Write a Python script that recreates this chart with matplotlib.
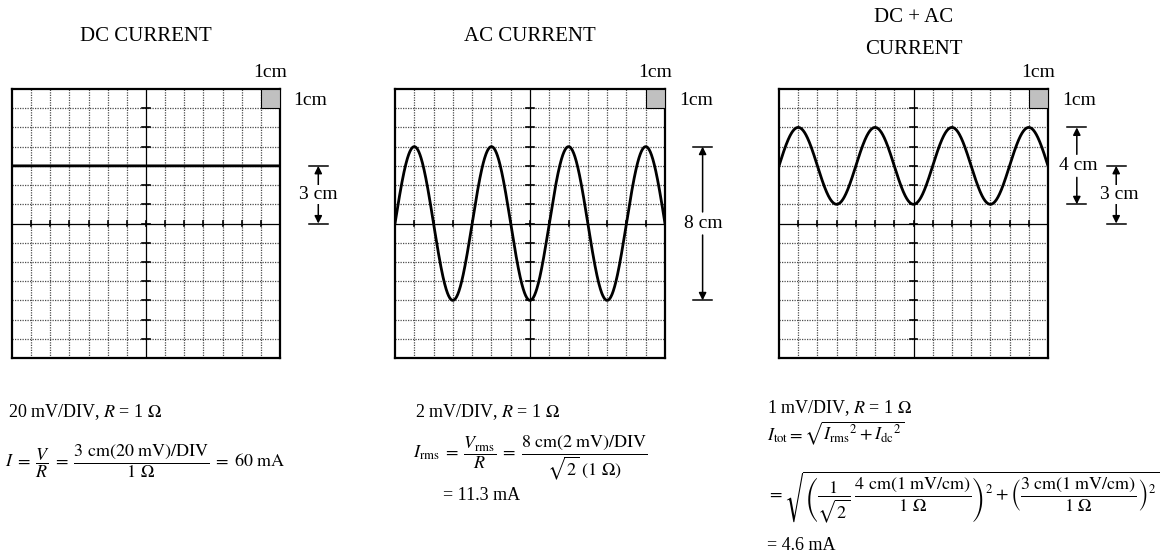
import numpy as np
import matplotlib.pyplot as plt
from matplotlib.patches import Rectangle

plt.rcParams['font.family'] = ['Liberation Serif', 'DejaVu Serif']
plt.rcParams['mathtext.fontset'] = 'stix'

# screen data, in cm (1 cm = 1 DIV)
titles = [['DC CURRENT'], ['AC CURRENT'], ['DC + AC', 'CURRENT']]
dc_level = [3, 0, 3]        # cm above the centre line
ac_amplitude = [0, 4, 2]    # cm peak
ac_period = [4, 4, 4]       # cm per cycle
n_div = 14

# dimension marks: (label, y_top, y_bottom, x of arrow, x of label)
dims = [
    [('3 cm', 3, 0, 16.0, 16.0)],
    [('8 cm', 4, -4, 15.95, 16.0)],
    [('4 cm', 5, 1, 15.5, 15.6), ('3 cm', 3, 0, 17.55, 17.7)],
]

# axes boxes in pixels (left, right) ; top/bottom shared
W, H = 1164, 557
box_x = [(12, 280), (395, 665), (779, 1048)]
box_top, box_bot = 89, 358

fig = plt.figure(figsize=(W / 100, H / 100), dpi=100)


def draw_screen(ax, k):
    ax.set_xlim(0, n_div)
    ax.set_ylim(-n_div / 2, n_div / 2)
    ax.set_xticks([])
    ax.set_yticks([])
    for s in ax.spines.values():
        s.set_linewidth(1.6)
    # dotted graticule
    for i in range(1, n_div):
        if i != n_div // 2:
            ax.axvline(i, color='0.3', lw=0.9, ls=(0, (1, 1)))
            ax.axhline(i - n_div / 2, color='0.3', lw=0.9, ls=(0, (1, 1)))
    ax.axvline(n_div / 2, color='k', lw=0.9)
    ax.axhline(0, color='k', lw=0.9)
    # little ticks on the centre lines
    for i in range(1, n_div):
        ax.plot([n_div / 2 - 0.2, n_div / 2 + 0.2], [i - n_div / 2] * 2, color='k', lw=1.2)
        ax.plot([i, i], [-0.15, 0.15], color='k', lw=1.2)
    # grey 1cm square
    ax.add_patch(Rectangle((n_div - 1, n_div / 2 - 1), 1, 1, facecolor='#c0c0c0',
                           edgecolor='k', lw=0.8, zorder=3))
    # trace
    x = np.linspace(0, n_div, 1200)
    y = dc_level[k] + ac_amplitude[k] * np.sin(2 * np.pi * x / ac_period[k])
    ax.plot(x, y, color='k', lw=2, zorder=4)

    ax.text(n_div - 0.5, 7.85, '1cm', ha='center', va='center', fontsize=14)
    ax.text(15.6, 6.4, '1cm', ha='center', va='center', fontsize=14, clip_on=False)
    if len(titles[k]) == 2:
        ax.text(n_div / 2, 10.72, titles[k][0], ha='center', va='center', fontsize=15)
        ax.text(n_div / 2, 9.05, titles[k][1], ha='center', va='center', fontsize=15)
    else:
        ax.text(n_div / 2, 9.74, titles[k][0], ha='center', va='center', fontsize=15)

    for label, yt, yb, xa, xl in dims[k]:
        for yy in (yt, yb):
            ax.plot([xa - 0.5, xa + 0.5], [yy, yy], color='k', lw=1.1, clip_on=False)
        ym = (yt + yb) / 2
        gap = 0.6 if (yt - yb) > 3 else 0.5
        for end, start in ((yt, ym + gap), (yb, ym - gap)):
            ax.annotate('', xy=(xa, end), xytext=(xa, start), annotation_clip=False,
                        arrowprops=dict(arrowstyle='-|>', color='k', lw=1.1,
                                        mutation_scale=11, shrinkA=0, shrinkB=0))
        ax.text(xl, ym, label, ha='center', va='center', fontsize=14,
                bbox=dict(facecolor='white', edgecolor='none', pad=0.5), zorder=5)


for k, (x0, x1) in enumerate(box_x):
    ax = fig.add_axes([x0 / W, 1 - box_bot / H, (x1 - x0) / W, (box_bot - box_top) / H])
    draw_screen(ax, k)


def ftext(x, y, s, size=13):
    fig.text(x / W, 1 - y / H, s, ha='left', va='center', fontsize=size)


# panel 1
ftext(8, 412, r'20 mV/DIV, $R$ = 1 $\Omega$')
ftext(5, 461, r'$I\;=\;\dfrac{V}{R}\;=\;\dfrac{\mathrm{3\ cm(20\ mV)/DIV}}{\mathrm{1\ \Omega}}'
              r'\;=\;\mathrm{60\ mA}$')

# panel 2
ftext(415, 412, r'2 mV/DIV, $R$ = 1 $\Omega$')
ftext(413, 458, r'$I_{\mathrm{rms}}\;=\;\dfrac{V_{\mathrm{rms}}}{R}\;=\;'
                r'\dfrac{\mathrm{8\ cm(2\ mV)/DIV}}{\sqrt{2}\ \mathrm{(1\ \Omega)}}$')
ftext(443, 495, r'= 11.3 mA')

# panel 3
ftext(767, 408, r'1 mV/DIV, $R$ = 1 $\Omega$')
ftext(767, 433, r'$I_{\mathrm{tot}} = \sqrt{{I_{\mathrm{rms}}}^{2} + {I_{\mathrm{dc}}}^{2}}$')
ftext(767, 497, r'$= \sqrt{\left(\dfrac{1}{\sqrt{2}}\ \dfrac{\mathrm{4\ cm(1\ mV/cm)}}{\mathrm{1\ \Omega}}\right)^{2}'
                r' + \left(\dfrac{\mathrm{3\ cm(1\ mV/cm)}}{\mathrm{1\ \Omega}}\right)^{2}}$')
ftext(767, 546, r'= 4.6 mA')

fig.savefig('out.png', dpi=100)
